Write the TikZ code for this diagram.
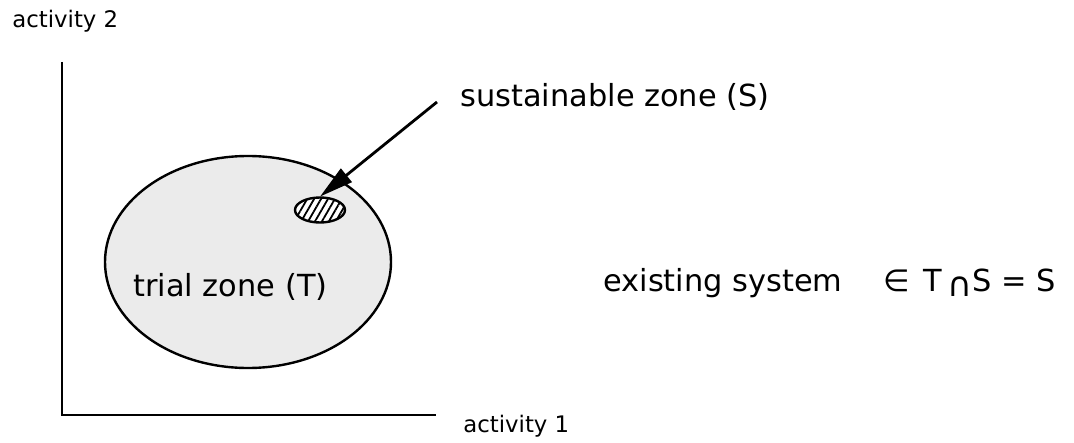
\documentclass[tikz,border=0pt]{standalone}
\usepackage{fontspec}
\setmainfont{DejaVu Sans}
\usetikzlibrary{positioning,arrows.meta,shapes.geometric,patterns.meta}
\definecolor{zonegray}{HTML}{EBEBEB}

\begin{document}
\begin{tikzpicture}[x=0.5pt,y=-0.5pt,
  lbl/.style={inner sep=0pt,anchor=west,font=\fontsize{15.2}{18}\selectfont},
  axlbl/.style={inner sep=0pt,anchor=west,font=\fontsize{11.4}{14}\selectfont},
  zone/.style={ellipse,draw,line width=1.2pt,inner sep=0pt}]
\useasboundingbox (0,0) rectangle (1074,443);
% axes
\coordinate (origin) at (62,415);
\coordinate (ytop) at (62,62);
\coordinate (xend) at (436,415);
\draw[line width=1.1pt] (ytop) -- (origin) -- (xend);
\node[axlbl] (act2) at (12,21) {activity 2};
\node[axlbl] (act1) at (463,426) {activity 1};
% zones
\node[zone,fill=zonegray,minimum width=143pt,minimum height=106pt] (tzone) at (248,262) {};
\node[zone,preaction={fill=white},pattern={Lines[angle=60,distance=3pt,line width=0.9pt]},
  minimum width=25pt,minimum height=12.5pt] (szone) at (320,210) {};
\node[lbl] (tlabel) at (133,287) {trial zone (T)};
\node[lbl] (slabel) at (460,97) {sustainable zone (S)};
\coordinate (arrstart) at (437,102);
\draw[line width=1.4pt,-{Triangle[length=17pt,width=8.5pt]}] (arrstart) -- (szone.north);
\node[lbl] (exist) at (603,283) {existing system\hspace{1.35em}∈\hspace{0.45em}T\,\raisebox{-2.5pt}{\fontsize{17}{18}\selectfont ∩}S = S};
\end{tikzpicture}
\end{document}
